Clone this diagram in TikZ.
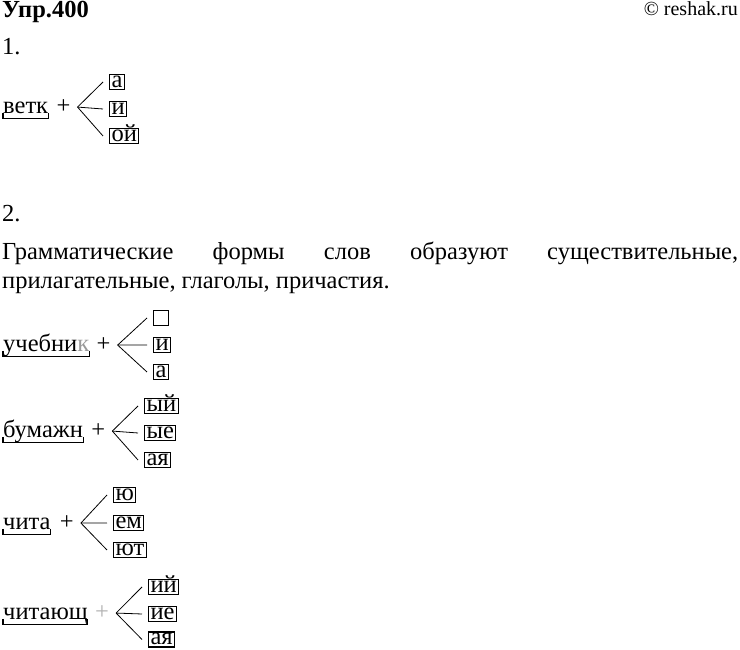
\documentclass[tikz,border=0pt]{standalone}
\usepackage{fontspec}
\setmainfont{Liberation Serif}
\usepackage{tikz}
\definecolor{plusgray}{rgb}{0.7,0.7,0.7}

\begin{document}
\begin{tikzpicture}
  [x=1pt,y=1pt,
   every node/.style={inner sep=0pt,font=\fontsize{24.5}{29}\selectfont},
   word/.style={anchor=base west},
   ending/.style={draw,anchor=west,line width=1.1pt,inner xsep=2pt,inner ysep=1.5pt,
     text height=11.5pt,text depth=0.5pt},
   branch/.style={line width=0.8pt},
   stem/.style={line width=1.1pt}]
  \useasboundingbox (0,0) rectangle (740,650);

  % heading
  \node[word,font=\fontsize{24.5}{29}\selectfont\bfseries] (title) at (2,632) {Упр.400};
  \node[anchor=base east,font=\fontsize{20}{24}\selectfont] (site) at (738,634.5) {© reshak.ru};
  \node[word] (num1) at (2,595) {1.};
  \node[word] (num2) at (2,428) {2.};
  \node[word] (line1) at (2,390)
    {\makebox[736pt][s]{Грамматические формы слов образуют существительные,}};
  \node[word] (line2) at (2,361) {прилагательные, глаголы, причастия.};

  % stems
  \node[word] (w1) at (3,536) {ветк};
  \node[word] (w2) at (3,298) {учебни\textcolor{black!40}{к}};
  \node[word] (w3) at (3,212) {бумажн};
  \node[word] (w4) at (3,120) {чита};
  \node[word] (w5) at (3,30)  {читающ};

  \node[word] (p1) at ([xshift=8pt]w1.base east) {+};
  \node[word] (p2) at ([xshift=7pt]w2.base east) {+};
  \node[word] (p3) at ([xshift=8pt]w3.base east) {+};
  \node[word] (p4) at ([xshift=9pt]w4.base east) {+};
  \node[word,text=plusgray] (p5) at ([xshift=7pt]w5.base east) {+};

  \foreach \n in {1,...,5}
    \coordinate (v\n) at ([xshift=7pt]p\n.east);

  % endings
  \node[ending] (e11) at (109,568) {а};
  \node[ending] (e12) at (109,541) {и};
  \node[ending] (e13) at (109,514) {ой};
  \node[ending] (e21) at (153,332) {\phantom{а}};
  \node[ending] (e22) at (153,305) {и};
  \node[ending] (e23) at (153,278) {а};
  \node[ending] (e31) at (144,244) {ый};
  \node[ending] (e32) at (144,217) {ые};
  \node[ending] (e33) at (144,190) {ая};
  \node[ending] (e41) at (113,155) {ю};
  \node[ending] (e42) at (113,127) {ем};
  \node[ending] (e43) at (113,100) {ют};
  \node[ending] (e51) at (148,63)  {ий};
  \node[ending] (e52) at (148,36)  {ие};
  \node[ending] (e53) at (148,10.5) {ая};

  \foreach \n in {1,...,5}
    \draw[stem] ([yshift=1pt]w\n.base west) |- ([yshift=-4.5pt]w\n.base east)
      -- ([yshift=1pt]w\n.base east);
  \foreach \n in {1,...,5}
    \foreach \k in {1,2,3}
      \draw[branch] (v\n) -- ([xshift=-6pt]e\n\k.west);
\end{tikzpicture}
\end{document}
